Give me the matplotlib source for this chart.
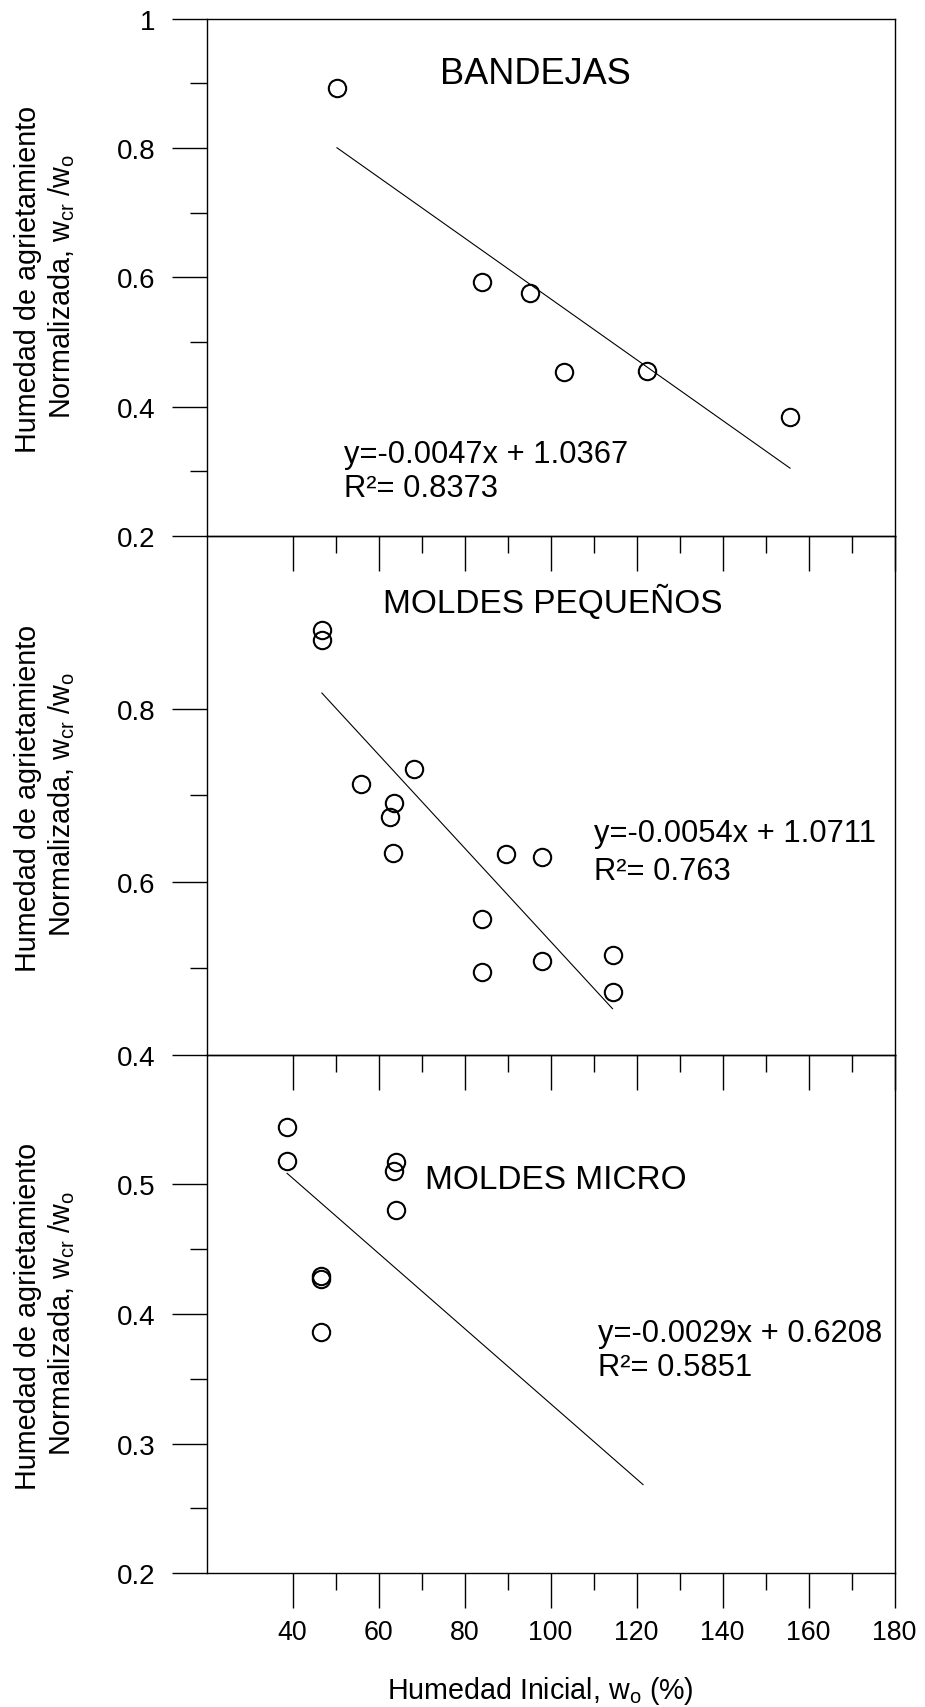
import matplotlib
matplotlib.use('Agg')
import matplotlib.pyplot as plt
from matplotlib.ticker import FixedLocator, FixedFormatter, NullFormatter
import numpy as np

plt.rcParams['font.family'] = ['Liberation Sans', 'DejaVu Sans']
plt.rcParams['mathtext.fontset'] = 'custom'
plt.rcParams['mathtext.rm'] = 'Liberation Sans'
plt.rcParams['mathtext.it'] = 'Liberation Sans'
plt.rcParams['mathtext.default'] = 'regular'

# ---------------- data ----------------
bandejas_x = [50.2, 84.1, 95.3, 103.2, 122.5, 155.7]
bandejas_y = [0.892, 0.593, 0.575, 0.454, 0.455, 0.384]

pequenos_x = [46.8, 46.8, 56.0, 68.3, 63.6, 62.6, 63.3, 89.6, 98.1, 84.0, 84.0, 97.9, 114.4, 114.4]
pequenos_y = [0.8915, 0.880, 0.7135, 0.731, 0.6915, 0.675, 0.6335, 0.632, 0.6286, 0.557, 0.496, 0.5085, 0.5155, 0.4725]

micro_x = [38.6, 38.6, 46.7, 46.7, 46.7, 64.1, 63.6, 64.0]
micro_y = [0.544, 0.518, 0.429, 0.427, 0.386, 0.517, 0.510, 0.480]

panel_names = ["BANDEJAS", "MOLDES PEQUEÑOS", "MOLDES MICRO"]
fit_slopes = [-0.0047, -0.0054, -0.0029]
fit_intercepts = [1.0367, 1.0711, 0.6208]
fit_r2 = ["0.8373", "0.763", "0.5851"]
fit_x_start = [50.3, 46.8, 38.7]
fit_x_end = [155.7, 114.4, 121.5]

x_major = [40, 60, 80, 100, 120, 140, 160, 180]
x_minor = [50, 70, 90, 110, 130, 150, 170]
y_major = [[0.2, 0.4, 0.6, 0.8, 1.0], [0.4, 0.6, 0.8], [0.2, 0.3, 0.4, 0.5]]
y_major_labels = [["0.2", "0.4", "0.6", "0.8", "1"], ["0.4", "0.6", "0.8"], ["0.2", "0.3", "0.4", "0.5"]]
y_minor = [[0.3, 0.5, 0.7, 0.9], [0.5, 0.7], [0.25, 0.35, 0.45]]
y_limits = [(0.2, 1.0), (0.4, 1.0), (0.2, 0.6)]

# ---------------- layout ----------------
W, H = 925, 1708
fig = plt.figure(figsize=(W / 100, H / 100), dpi=100)
left_px, right_px = 206.7, 894.5
bounds_px = [19.6, 537.0, 1055.8, 1574.3]

xs = [bandejas_x, pequenos_x, micro_x]
ys = [bandejas_y, pequenos_y, micro_y]

# text placement (data coords, left edge / baseline)
title_pos = [(74.3, 0.901), (61.0, 0.912), (70.8, 0.497)]
title_size = [26, 24, 24]
eq_pos = [(51.9, 0.3144, 0.2618), (110.0, 0.647, 0.6033), (111.0, 0.3792, 0.353)]

axes = []
for i in range(3):
    top, bot = bounds_px[i], bounds_px[i + 1]
    ax = fig.add_axes([left_px / W, 1 - bot / H, (right_px - left_px) / W, (bot - top) / H])
    ax.patch.set_visible(False)
    ax.set_xlim(20, 180)
    ax.set_ylim(*y_limits[i])
    for s in ax.spines.values():
        s.set_linewidth(1.0)
        s.set_color('black')

    ax.plot(xs[i], ys[i], linestyle='none', marker='o', markersize=12.5,
            markerfacecolor='none', markeredgecolor='black', markeredgewidth=1.5,
            clip_on=False, zorder=3)

    fx = np.array([fit_x_start[i], fit_x_end[i]])
    ax.plot(fx, fit_slopes[i] * fx + fit_intercepts[i], color='black', lw=0.8, zorder=2)

    ax.xaxis.set_major_locator(FixedLocator(x_major))
    ax.xaxis.set_minor_locator(FixedLocator(x_minor))
    ax.yaxis.set_major_locator(FixedLocator(y_major[i]))
    ax.yaxis.set_major_formatter(FixedFormatter(y_major_labels[i]))
    ax.yaxis.set_minor_locator(FixedLocator(y_minor[i]))
    ax.yaxis.set_minor_formatter(NullFormatter())

    ax.tick_params(axis='both', which='major', direction='out', length=25, width=1.0, color='black')
    ax.tick_params(axis='both', which='minor', direction='out', length=12.2, width=1.0, color='black')
    ax.tick_params(axis='y', which='major', labelsize=20, pad=12.2)
    ax.tick_params(axis='x', which='major', labelsize=19.3, pad=8)
    if i < 2:
        ax.tick_params(axis='x', which='both', labelbottom=False)

    ax.text(title_pos[i][0], title_pos[i][1], panel_names[i], fontsize=title_size[i],
            ha='left', va='baseline')
    sgn = '-' if fit_slopes[i] < 0 else ''
    ax.text(eq_pos[i][0], eq_pos[i][1],
            "y=%s%.4fx + %.4f" % (sgn, abs(fit_slopes[i]), fit_intercepts[i]),
            fontsize=22.2, ha='left', va='baseline')
    ax.text(eq_pos[i][0], eq_pos[i][2], "R\u00b2= " + fit_r2[i],
            fontsize=22.2, ha='left', va='baseline')

    # y label (two lines)
    ax.text(-0.2482, 0.497, "Humedad de agrietamiento", transform=ax.transAxes,
            rotation=90, rotation_mode='anchor', ha='center', va='baseline', fontsize=20.7)
    ax.text(-0.1987, 0.484, r"Normalizada, w$_{cr}$ /w$_{o}$", transform=ax.transAxes,
            rotation=90, rotation_mode='anchor', ha='center', va='baseline', fontsize=20.7)
    axes.append(ax)

axes[2].text(0.4846, (1574.3 - 1699.0) / (1574.3 - 1055.8), r"Humedad Inicial, w$_{o}$ (%)",
             transform=axes[2].transAxes, ha='center', va='baseline', fontsize=20.6)

fig.savefig("out.png", dpi=100, facecolor='white')
